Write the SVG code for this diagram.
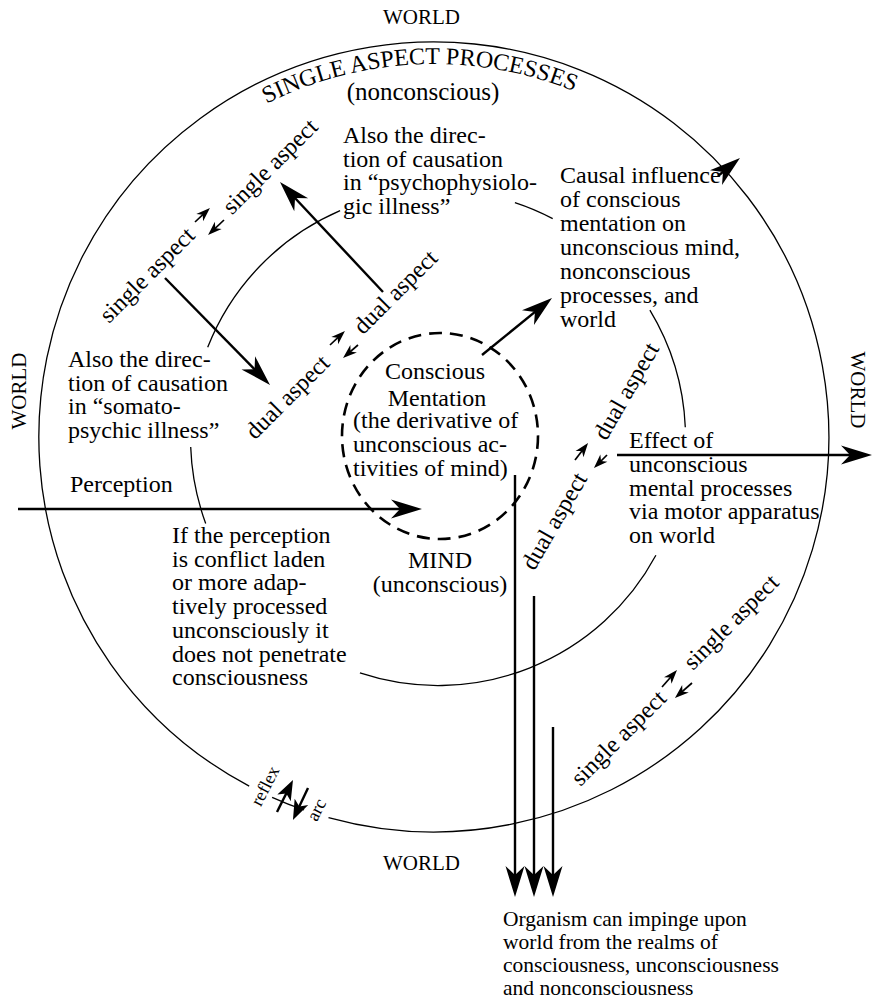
<svg xmlns="http://www.w3.org/2000/svg" width="873" height="1001" viewBox="0 0 873 1001">
<style>
text{font-family:"Liberation Serif","Times New Roman",serif;fill:#000}
.t{font-size:24px}
.w{font-size:21px}
.o{font-size:21.5px}
.r{font-size:18px}
.ln{fill:none;stroke:#000;stroke-width:1.3}
.ds{fill:none;stroke:#000;stroke-width:2.6;stroke-dasharray:13 8}
.a{fill:none;stroke:#000;stroke-width:2.4}
.sa{fill:none;stroke:#000;stroke-width:1.7}
</style>
<defs>
<path id="arcPath" d="M111,250.5 A373,373 0 0 1 757,250.5"/>
<marker id="big" markerUnits="userSpaceOnUse" viewBox="-20 -10 34 20" markerWidth="34" markerHeight="20" refX="0" refY="0" orient="auto"><path d="M12,0 L-19,-9.5 L-10,0 L-19,9.5 Z" fill="#000"/></marker>
<marker id="sm" markerUnits="userSpaceOnUse" viewBox="-11 -7 18 14" markerWidth="18" markerHeight="14" refX="0" refY="0" orient="auto"><path d="M5,0 L-9,-5 L-5,0 L-9,5 Z" fill="#000"/></marker>
<marker id="md" markerUnits="userSpaceOnUse" viewBox="-16 -8 24 16" markerWidth="24" markerHeight="16" refX="0" refY="0" orient="auto"><path d="M6,0 L-14,-7.5 L-9,0 L-14,7.5 Z" fill="#000"/></marker>
</defs>

<g id="world-boundary">
<path class="ln" d="M328.5,817.6 A395,395 0 1 0 249.2,786.1 M272.1,797.3 A395,395 0 0 0 304.1,810.0"/>
</g>
<g id="mind-boundary">
<path class="ln" d="M340.1,210.7 A247.5,247.5 0 0 0 207.7,347.3 M190.7,447.1 A247.5,247.5 0 0 0 205.7,523.5 M359.9,672.9 A247.5,247.5 0 0 0 655.9,555.3 M685.3,427.2 A247.5,247.5 0 0 0 649.9,310.2 M514.9,202.7 A247.5,247.5 0 0 1 552.7,218.7"/>
</g>
<g id="conscious-boundary">
<ellipse class="ds" cx="440" cy="436" rx="98" ry="103"/>
</g>

<g id="world-labels">
<text class="w" x="421.5" y="24" text-anchor="middle">WORLD</text>
<text class="w" x="421.5" y="870" text-anchor="middle">WORLD</text>
<text class="w" transform="translate(26,391) rotate(-90)" text-anchor="middle">WORLD</text>
<text class="w" transform="translate(851,390) rotate(90)" text-anchor="middle">WORLD</text>
</g>
<g id="single-aspect-processes">
<text class="t"><textPath href="#arcPath" startOffset="375.6" text-anchor="middle">SINGLE ASPECT PROCESSES</textPath></text>
<text class="t" x="423" y="100" text-anchor="middle" style="font-size:25px">(nonconscious)</text>
</g>
<g id="psychophysiologic-note">
<text class="t" x="343" y="143">Also the direc-</text>
<text class="t" x="343" y="166.7">tion of causation</text>
<text class="t" x="343" y="190.4">in “psychophysiolo-</text>
<text class="t" x="343" y="214">gic illness”</text>
</g>
<g id="causal-influence-note">
<text class="t" x="560" y="183">Causal influence</text>
<text class="t" x="560" y="207">of conscious</text>
<text class="t" x="560" y="231">mentation on</text>
<text class="t" x="560" y="255">unconscious mind,</text>
<text class="t" x="560" y="279">nonconscious</text>
<text class="t" x="560" y="303">processes, and</text>
<text class="t" x="560" y="327">world</text>
</g>
<g id="somatopsychic-note">
<text class="t" x="68" y="367">Also the direc-</text>
<text class="t" x="68" y="390.7">tion of causation</text>
<text class="t" x="68" y="414.3">in “somato-</text>
<text class="t" x="68" y="438">psychic illness”</text>
</g>
<g id="perception-label">
<text class="t" x="70" y="492">Perception</text>
</g>
<g id="perception-note">
<text class="t" x="172" y="543">If the perception</text>
<text class="t" x="172" y="566.7">is conflict laden</text>
<text class="t" x="172" y="590.4">or more adap-</text>
<text class="t" x="172" y="614.1">tively processed</text>
<text class="t" x="172" y="637.8">unconsciously it</text>
<text class="t" x="172" y="661.5">does not penetrate</text>
<text class="t" x="172" y="685.2">consciousness</text>
</g>
<g id="conscious-mentation">
<text class="t" x="435" y="379" text-anchor="middle">Conscious</text>
<text class="t" x="437" y="406" text-anchor="middle">Mentation</text>
<text class="t" x="353" y="428">(the derivative of</text>
<text class="t" x="353" y="451.7">unconscious ac-</text>
<text class="t" x="353" y="475.7">tivities of mind)</text>
</g>
<g id="mind-label">
<text class="t" x="440" y="568" text-anchor="middle">MIND</text>
<text class="t" x="440" y="592" text-anchor="middle">(unconscious)</text>
</g>
<g id="effect-note">
<text class="t" x="629" y="448">Effect of</text>
<text class="t" x="629" y="471.7">unconscious</text>
<text class="t" x="629" y="495.5">mental processes</text>
<text class="t" x="629" y="519.2">via motor apparatus</text>
<text class="t" x="629" y="543">on world</text>
</g>
<g id="organism-note">
<text class="o" x="503" y="926">Organism can impinge upon</text>
<text class="o" x="503" y="949">world from the realms of</text>
<text class="o" x="503" y="972">consciousness, unconsciousness</text>
<text class="o" x="503" y="995">and nonconsciousness</text>
</g>
<g id="aspect-labels">
<text class="t" transform="translate(152.5,280.5) rotate(-45)" text-anchor="middle">single aspect</text>
<text class="t" transform="translate(275.5,172) rotate(-45)" text-anchor="middle">single aspect</text>
<text class="t" transform="translate(293,402.5) rotate(-45)" text-anchor="middle">dual aspect</text>
<text class="t" transform="translate(401,297.5) rotate(-45)" text-anchor="middle">dual aspect</text>
<text class="t" transform="translate(561,525) rotate(-60)" text-anchor="middle">dual aspect</text>
<text class="t" transform="translate(633,395) rotate(-60)" text-anchor="middle">dual aspect</text>
<text class="t" transform="translate(624,743.5) rotate(-45)" text-anchor="middle">single aspect</text>
<text class="t" transform="translate(736.5,627.5) rotate(-45)" text-anchor="middle">single aspect</text>
<text class="r" transform="translate(270.4,788.6) rotate(-63)" text-anchor="middle">reflex</text>
<text class="r" transform="translate(321.7,812.4) rotate(-63)" text-anchor="middle">arc</text>
</g>

<g id="connectors">
<path class="a" marker-end="url(#big)" d="M18,509 L410,509"/>
<path class="a" marker-end="url(#big)" d="M617,455 L860,455"/>
<path class="a" marker-end="url(#big)" d="M482,355 L542.7,305.6"/>
<path class="a" marker-end="url(#big)" d="M718,176 L730.7,165.6"/>
<path class="a" marker-end="url(#big)" d="M383,292 L288.2,190.8"/>
<path class="a" marker-end="url(#big)" d="M165,278 L261.6,376.4"/>
<path class="a" marker-end="url(#big)" d="M515,475 L515,885"/>
<path class="a" marker-end="url(#big)" d="M534,596 L534,885"/>
<path class="a" marker-end="url(#big)" d="M553,727 L553,885"/>
<path class="sa" marker-end="url(#sm)" d="M195,222 L206.3,211.4"/>
<path class="sa" marker-end="url(#sm)" d="M224,220 L211.7,231.6"/>
<path class="sa" marker-end="url(#sm)" d="M330,345 L341.3,334.4"/>
<path class="sa" marker-end="url(#sm)" d="M358,345 L346.8,354.7"/>
<path class="sa" marker-end="url(#sm)" d="M575,460 L585,447"/>
<path class="sa" marker-end="url(#sm)" d="M607,455 L597.5,464.5"/>
<path class="sa" marker-end="url(#sm)" d="M662,687 L673.7,673.7"/>
<path class="sa" marker-end="url(#sm)" d="M692,683 L678.7,694.7"/>
<path class="a" marker-end="url(#md)" d="M277,812 L290.3,785.4"/>
<path class="a" marker-end="url(#md)" d="M308,788 L295.5,814.6"/>
</g>
</svg>
